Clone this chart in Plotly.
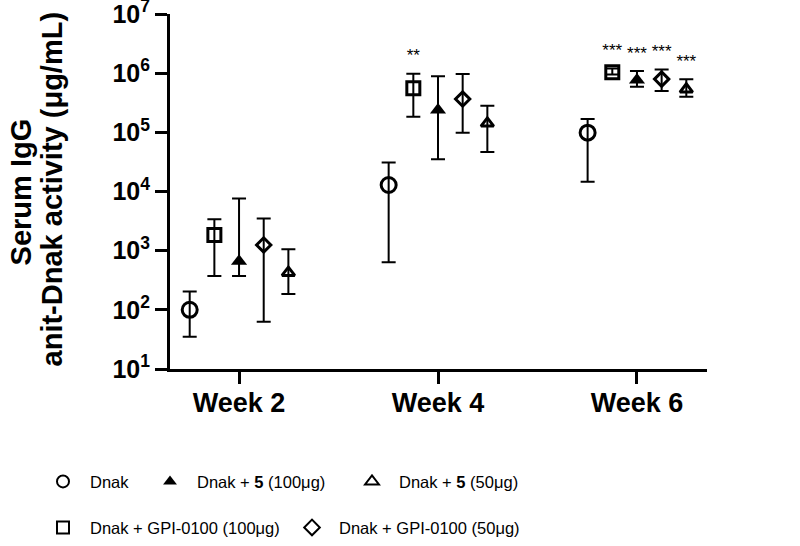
import plotly.graph_objects as go

# ---------------- data ----------------
categories = ["Week 2", "Week 4", "Week 6"]

series_names = [
    "Dnak",
    "Dnak + GPI-0100 (100μg)",
    "Dnak + <b>5</b> (100μg)",
    "Dnak + GPI-0100 (50μg)",
    "Dnak + <b>5</b> (50μg)",
]

dnak_mean = [100, 12900, 99000]
dnak_hi = [204, 31000, 168000]
dnak_lo = [35, 640, 14700]

gpi100_mean = [1850, 555000, 1035000]
gpi100_hi = [3400, 980000, 1200000]
gpi100_lo = [375, 184000, 950000]

c5_100_mean = [660, 240000, 767000]
c5_100_hi = [7600, 885000, 1090000]
c5_100_lo = [375, 35000, 590000]

gpi50_mean = [1250, 366000, 795000]
gpi50_hi = [3500, 967000, 1160000]
gpi50_lo = [63, 99000, 500000]

c5_50_mean = [425, 142000, 535000]
c5_50_hi = [1060, 283000, 790000]
c5_50_lo = [186, 46500, 400000]

# significance labels per series, per week
dnak_sig = ["", "", ""]
gpi100_sig = ["", "**", "***"]
c5_100_sig = ["", "", "***"]
gpi50_sig = ["", "", "***"]
c5_50_sig = ["", "", "***"]

y_tickvals = [10, 100, 1000, 10000, 100000, 1000000, 10000000]
y_ticktext = ["10<sup>1</sup>", "10<sup>2</sup>", "10<sup>3</sup>", "10<sup>4</sup>",
              "10<sup>5</sup>", "10<sup>6</sup>", "10<sup>7</sup>"]

# ---------------- styling ----------------
FONT = "Liberation Sans, Arial, Helvetica, sans-serif"
series = [
    (series_names[0], dnak_mean, dnak_hi, dnak_lo, dnak_sig, "circle-open", 15, "legend"),
    (series_names[1], gpi100_mean, gpi100_hi, gpi100_lo, gpi100_sig, "square-open", 13, "legend4"),
    (series_names[2], c5_100_mean, c5_100_hi, c5_100_lo, c5_100_sig, "triangle-up", 14, "legend2"),
    (series_names[3], gpi50_mean, gpi50_hi, gpi50_lo, gpi50_sig, "diamond-open", 11, "legend5"),
    (series_names[4], c5_50_mean, c5_50_hi, c5_50_lo, c5_50_sig, "triangle-up-open", 11, "legend3"),
]

fig = go.Figure()
for i, (name, mean, hi, lo, sig, sym, size, leg) in enumerate(series):
    plus = [h - m for h, m in zip(hi, mean)]
    minus = [m - l for m, l in zip(mean, lo)]
    fig.add_trace(go.Scatter(
        x=categories, y=mean, name=name, mode="markers",
        offsetgroup=str(i), legend=leg,
        marker=dict(symbol=sym, size=size, color="black",
                    line=dict(color="black", width=3 if "open" in sym else 0)),
        error_y=dict(type="data", symmetric=False, array=plus, arrayminus=minus,
                     color="black", thickness=2, width=7),
        hoverinfo="skip",
    ))
    label_y = [h * 1.37 if s else None for h, s in zip(hi, sig)]
    fig.add_trace(go.Scatter(
        x=categories, y=label_y, mode="text", text=sig, offsetgroup=str(i),
        textposition="top center", showlegend=False,
        textfont=dict(family=FONT, size=17, color="black"),
        hoverinfo="skip",
    ))

leg_common = dict(orientation="h", xref="container", yref="container",
                  xanchor="left", yanchor="middle", itemsizing="constant",
                  itemwidth=44, bgcolor="rgba(0,0,0,0)",
                  font=dict(family=FONT, size=16.5, color="black"))
W, H = 800, 546
row1_y = 1 - 481.7 / H
row2_y = 1 - 527.7 / H

fig.update_layout(
    width=W, height=H,
    paper_bgcolor="white", plot_bgcolor="white",
    margin=dict(l=170, r=W - 706.7, t=14, b=H - 369.3, autoexpand=False),
    scattermode="group", scattergap=0.38,
    showlegend=True,
    legend=dict(**leg_common, x=36 / W, y=row1_y),
    legend2=dict(**leg_common, x=143 / W, y=row1_y),
    legend3=dict(**leg_common, x=345 / W, y=row1_y),
    legend4=dict(**leg_common, x=36 / W, y=row2_y),
    legend5=dict(**leg_common, x=285 / W, y=row2_y),
    xaxis=dict(
        type="category", range=[-0.347, 2.352],
        showline=True, linecolor="black", linewidth=3,
        ticks="outside", ticklen=12, tickwidth=3, tickcolor="black",
        ticklabelstandoff=-4,
        showgrid=False, zeroline=False,
        tickfont=dict(family=FONT, size=27, color="black", weight="bold"),
    ),
    yaxis=dict(
        type="log", range=[1, 7.001],
        tickvals=y_tickvals, ticktext=y_ticktext,
        ticklabeloverflow="allow",
        showline=True, linecolor="black", linewidth=3,
        ticks="outside", ticklen=12, tickwidth=3, tickcolor="black",
        showgrid=False, zeroline=False,
        tickfont=dict(family=FONT, size=25, color="black", weight="bold"),
    ),
    annotations=[
        dict(text="<b>Serum IgG</b>", textangle=-90, xref="paper", yref="paper",
             x=(21 - 170) / 536.7, y=0.5, xanchor="center", yanchor="middle",
             showarrow=False, font=dict(family=FONT, size=29, color="black")),
        dict(text="<b>anit-Dnak activity (μg/mL)</b>", textangle=-90, xref="paper", yref="paper",
             x=(52 - 170) / 536.7, y=0.5, yshift=3, xanchor="center", yanchor="middle",
             showarrow=False, font=dict(family=FONT, size=29, color="black")),
    ],
)

fig.write_html("out.html", config={"displayModeBar": False},
               post_script="document.body.style.margin='0';")
